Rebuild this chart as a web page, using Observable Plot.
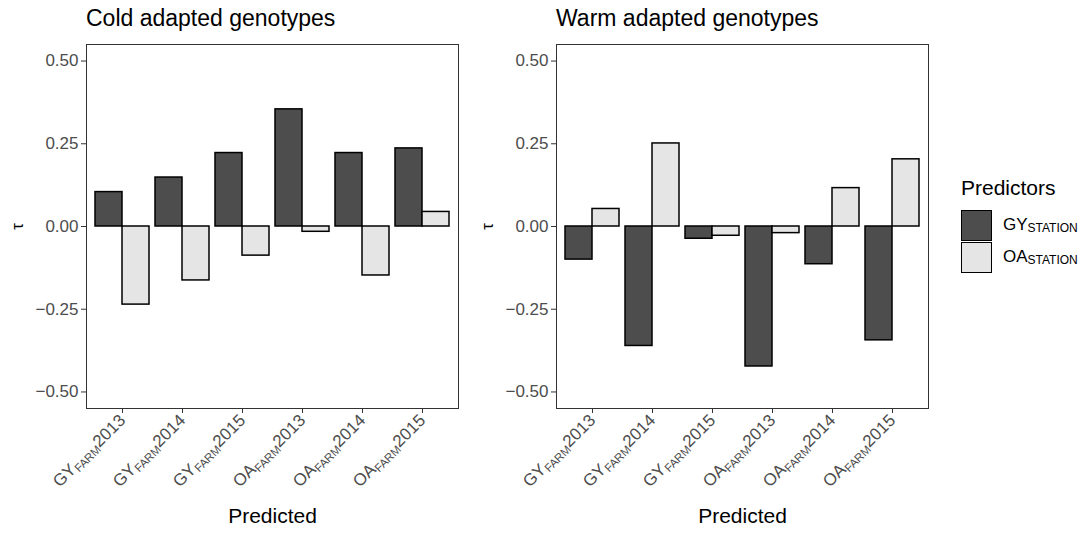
<!DOCTYPE html>
<html><head><meta charset="utf-8">
<script src="https://cdn.jsdelivr.net/npm/d3@7"></script>
<script src="https://cdn.jsdelivr.net/npm/@observablehq/plot@0.6"></script>
<style>
body{margin:0;background:#fff;font-family:"Liberation Sans",Arial,sans-serif;}
#row{display:flex;width:1086px;height:536px;position:relative;}
.panel{width:470px;height:536px;}
.title{height:40px;box-sizing:border-box;padding-left:86px;padding-top:5px;font-size:23px;color:#000;line-height:27px;}
#legend{position:absolute;left:961px;top:175px;color:#000;}
#legend .lt{font-size:21px;line-height:25px;margin-bottom:9px;}
#legend .item{display:flex;align-items:center;height:32px;}
#legend .sw{width:29px;height:29px;border:1.5px solid #000;}
#legend .lab{margin-left:11px;font-size:17px;}
#legend .lab sub{font-size:12px;vertical-align:-2px;}
</style></head>
<body>
<div id="row">
  <div class="panel" id="p1"><div class="title">Cold adapted genotypes</div></div>
  <div class="panel" id="p2"><div class="title">Warm adapted genotypes</div></div>
  <div id="legend"></div>
</div>
<script>
const traits = ["GY","GY","GY","OA","OA","OA"];
const years = ["2013","2014","2015","2013","2014","2015"];
const categories = ["GYFARM2013","GYFARM2014","GYFARM2015","OAFARM2013","OAFARM2014","OAFARM2015"];
const predictors = ["GY","OA"];
const predictorColors = ["#4d4d4d","#e5e5e5"];
const coldGY = [0.104, 0.148, 0.222, 0.354, 0.222, 0.236];
const coldOA = [-0.236, -0.163, -0.088, -0.016, -0.148, 0.044];
const warmGY = [-0.100, -0.361, -0.037, -0.423, -0.114, -0.344];
const warmOA = [0.053, 0.251, -0.028, -0.020, 0.116, 0.203];
const yTicks = [-0.5, -0.25, 0, 0.25, 0.5];
const yDomain = [-0.55, 0.55];

function rows(gy, oa) {
  const out = [];
  categories.forEach((c, i) => {
    out.push({cat: c, predictor: "GY", value: gy[i]});
    out.push({cat: c, predictor: "OA", value: oa[i]});
  });
  return out;
}

function panel(id, gy, oa) {
  const data = rows(gy, oa);
  const W = 470, ML = 86, MR = 12;
  const step = (W - ML - MR) / (categories.length + 0.2);
  const half = step * 0.45;
  const chart = Plot.plot({
    width: W, height: 496,
    marginLeft: ML, marginRight: MR, marginTop: 4, marginBottom: 128,
    style: {fontFamily: '"Liberation Sans", Arial, sans-serif', fontSize: "17px", color: "#333", background: "#fff"},
    x: {domain: categories, paddingInner: 0.1, paddingOuter: 0.15, align: 0.5},
    y: {domain: yDomain},
    color: {domain: predictors, range: predictorColors},
    marks: [
      Plot.barY(data.filter(d => d.predictor === "GY"), {x: "cat", y: "value", fill: "predictor", stroke: "#000", strokeWidth: 1.5, insetRight: half}),
      Plot.barY(data.filter(d => d.predictor === "OA"), {x: "cat", y: "value", fill: "predictor", stroke: "#000", strokeWidth: 1.5, insetLeft: half}),
      Plot.frame({stroke: "#333", strokeWidth: 1}),
      Plot.axisY({ticks: yTicks, tickFormat: d3.format(".2f"), tickSize: 5, tickPadding: 3, label: "τ", labelAnchor: "center", labelArrow: "none", labelOffset: 76}),
      Plot.axisX({tickRotate: -45, tickSize: 5, tickPadding: 4, label: "Predicted", labelAnchor: "center", labelArrow: "none", labelOffset: 114})
    ]
  });
  const svg = d3.select(chart);
  svg.selectAll('g[aria-label="y-axis tick label"] text').attr("fill", "#4d4d4d").attr("font-size", "17px");
  svg.selectAll('g[aria-label="x-axis tick label"] text').attr("fill", "#4d4d4d").attr("font-size", "17px");
  svg.selectAll('g[aria-label="x-axis tick label"] text').each(function(d, i) {
    const t = d3.select(this);
    const idx = categories.indexOf(t.text());
    const k = idx >= 0 ? idx : i;
    t.text(null);
    t.append("tspan").text(traits[k]);
    t.append("tspan").attr("font-size", "11.5px").attr("dy", "3").text("FARM");
    t.append("tspan").attr("dy", "-3").text(years[k]);
  });
  svg.selectAll('g[aria-label="y-axis label"] text').attr("font-size", "17px").attr("fill", "#000");
  svg.selectAll('g[aria-label="x-axis label"] text').attr("font-size", "21px").attr("fill", "#000");
  document.getElementById(id).appendChild(chart);
}
panel("p1", coldGY, coldOA);
panel("p2", warmGY, warmOA);

const lg = document.getElementById("legend");
lg.innerHTML = '<div class="lt">Predictors</div>' + predictors.map((p, i) =>
  `<div class="item"><div class="sw" style="background:${predictorColors[i]}"></div><div class="lab">${p}<sub>STATION</sub></div></div>`).join("");
</script>
</body></html>
